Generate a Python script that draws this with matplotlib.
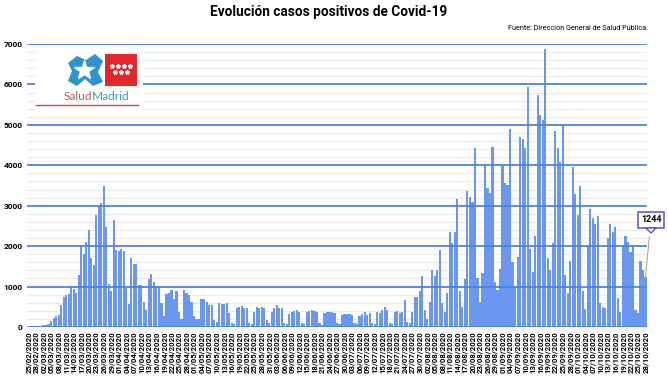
import numpy as np
import pandas as pd
import matplotlib
matplotlib.use("Agg")
import matplotlib.pyplot as plt
from matplotlib import font_manager
from matplotlib.patches import Rectangle, Polygon

# daily positive cases, 25/02/2020 -> 28/10/2020
cases = [
    10, 10, 15, 20, 20, 30, 40, 60, 80, 150,
    230, 280, 300, 550, 740, 790, 820, 1010, 940, 840,
    1290, 2000, 1810, 2100, 2400, 1710, 1530, 2780, 2980, 3070,
    3500, 2480, 1070, 900, 2650, 1910, 1880, 1930, 1870, 960,
    570, 1700, 1550, 1560, 1040, 1040, 630, 420, 1180, 1300,
    1110, 1000, 1000, 590, 270, 820, 850, 920, 690, 880,
    370, 210, 910, 850, 790, 630, 280, 190, 190, 700,
    700, 630, 540, 540, 170, 130, 590, 560, 560, 600,
    340, 90, 80, 460, 500, 520, 470, 480, 90, 80,
    380, 500, 480, 490, 460, 170, 90, 380, 480, 540,
    470, 460, 90, 80, 320, 380, 400, 420, 380, 100,
    70, 380, 400, 420, 400, 380, 90, 60, 340, 360,
    380, 360, 340, 100, 70, 300, 310, 320, 330, 300,
    90, 70, 280, 330, 360, 300, 340, 100, 80, 380,
    350, 420, 500, 420, 110, 80, 380, 400, 340, 380,
    670, 130, 100, 380, 750, 750, 890, 1250, 420, 210,
    620, 1400, 1250, 1420, 1910, 590, 380, 830, 2360, 2070,
    2340, 3170, 880, 500, 1190, 3370, 3210, 3080, 4420, 1210,
    630, 1330, 4000, 3440, 3310, 4450, 1120, 920, 1430, 3970,
    3560, 3520, 4900, 1600, 1000, 1740, 4700, 4640, 4430, 5930,
    1930, 1370, 2240, 5750, 5250, 5130, 6870, 1700, 1410, 2090,
    4840, 4430, 4070, 5030, 1290, 830, 1640, 3950, 3290, 2770,
    3480, 880, 440, 1990, 2920, 2690, 2560, 2740, 590, 500,
    460, 2200, 2560, 2340, 2480, 710, 360, 2020, 2240, 2110,
    1850, 2020, 420, 340, 1640, 1400, 1244,
]
dates = pd.date_range("2020-02-25", periods=len(cases), freq="D")
tick_labels = [d.strftime("%d/%m/%Y") for d in dates[::3]]
last_value = cases[-1]

names = {f.name for f in font_manager.fontManager.ttflist}
narrow = "Liberation Sans Narrow" if "Liberation Sans Narrow" in names else "Roboto"

W, H = 668, 385
fig = plt.figure(figsize=(W / 100, H / 100), dpi=100)
fig.patch.set_facecolor("white")

def px(x0, y0, x1, y1):
    # pixel box (top-left origin) -> figure fraction rect
    return [x0 / W, 1 - y1 / H, (x1 - x0) / W, (y1 - y0) / H]

ax = fig.add_axes(px(27, 44, 647, 327))
x = np.arange(len(cases))
ax.bar(x, cases, width=0.86, color="#6A98F0", zorder=3)

for v in range(0, 7001, 200):
    if v % 1000 == 0:
        ax.axhline(v, color="#4F82DE", lw=1.3, zorder=4)
    else:
        ax.axhline(v, color="#EBEBEB", lw=0.8, zorder=1)

ax.set_xlim(-0.6, len(cases) - 0.4)
ax.set_ylim(0, 7000)
ax.set_yticks(range(0, 7001, 1000))
ax.set_yticklabels([str(v) for v in range(0, 7001, 1000)],
                   fontsize=6, fontweight="bold", family=narrow)
ax.set_xticks(x[::3])
ax.set_xticklabels(tick_labels, rotation=90, fontsize=5.6,
                   fontweight="bold", family=narrow)
ax.tick_params(length=0, pad=3)
for s in ax.spines.values():
    s.set_visible(False)

fig.text(329 / W, 1 - 12 / H, "Evolución casos positivos de Covid-19",
         ha="center", va="center", fontsize=9.8, fontweight="bold", family=narrow)
fig.text(648 / W, 1 - 28 / H, "Fuente: Dirección General de Salud Pública.",
         ha="right", va="center", fontsize=5.2, family=narrow)

# callout for the last value
ax.annotate(str(last_value), xy=(x[-1], last_value), xycoords="data",
            xytext=(651, H - 220), textcoords="figure pixels",
            ha="center", va="center", fontsize=6.5, fontweight="bold", family=narrow,
            bbox=dict(boxstyle="square,pad=0.35", fc="white", ec="#5A4FD0", lw=1.1),
            arrowprops=dict(arrowstyle="-", color="#A0A0A0", lw=0.7,
                            shrinkA=6, shrinkB=0),
            zorder=6, annotation_clip=False)
fig.patches.append(Polygon([[646 / W, 1 - 228 / H], [656 / W, 1 - 228 / H],
                            [651 / W, 1 - 233 / H]], closed=True,
                           transform=fig.transFigure, fc="white", ec="#5A4FD0",
                           lw=1.0, zorder=7))

# SaludMadrid logo
lg = fig.add_axes(px(35, 49, 143, 110))
lg.set_xlim(35, 143)
lg.set_ylim(110, 49)
lg.set_facecolor("white")
lg.axis("off")
lg.add_patch(Rectangle((35, 49), 108, 61, fc="white", ec="none"))
cross = [(68, 63), (77, 56), (86, 60), (95, 54), (103, 61), (98, 72), (103, 82),
         (93, 86), (85, 79), (77, 86), (68, 81), (72, 71)]
lg.add_patch(Polygon(cross, closed=True, fc="#2E93D1", ec="none"))
lg.plot(84, 70, marker="*", ms=15, color="white", mec="white")
lg.add_patch(Rectangle((105, 54), 32, 32, fc="#E4262B", ec="none"))
for sx in (112, 118, 124, 130):
    lg.plot(sx, 66, marker="*", ms=3.2, color="white", mec="white")
for sx in (115, 121, 127):
    lg.plot(sx, 72, marker="*", ms=3.2, color="white", mec="white")
lg.text(92, 96, "Salud", ha="right", va="center", fontsize=8.6,
        color="#C45A5E", family="Lato")
lg.text(92, 96, "Madrid", ha="left", va="center", fontsize=8.6,
        color="#3A9CC4", family="Lato")
lg.plot([36, 138], [105, 105], color="#D9474A", lw=1)

fig.savefig("out.png", dpi=100)
